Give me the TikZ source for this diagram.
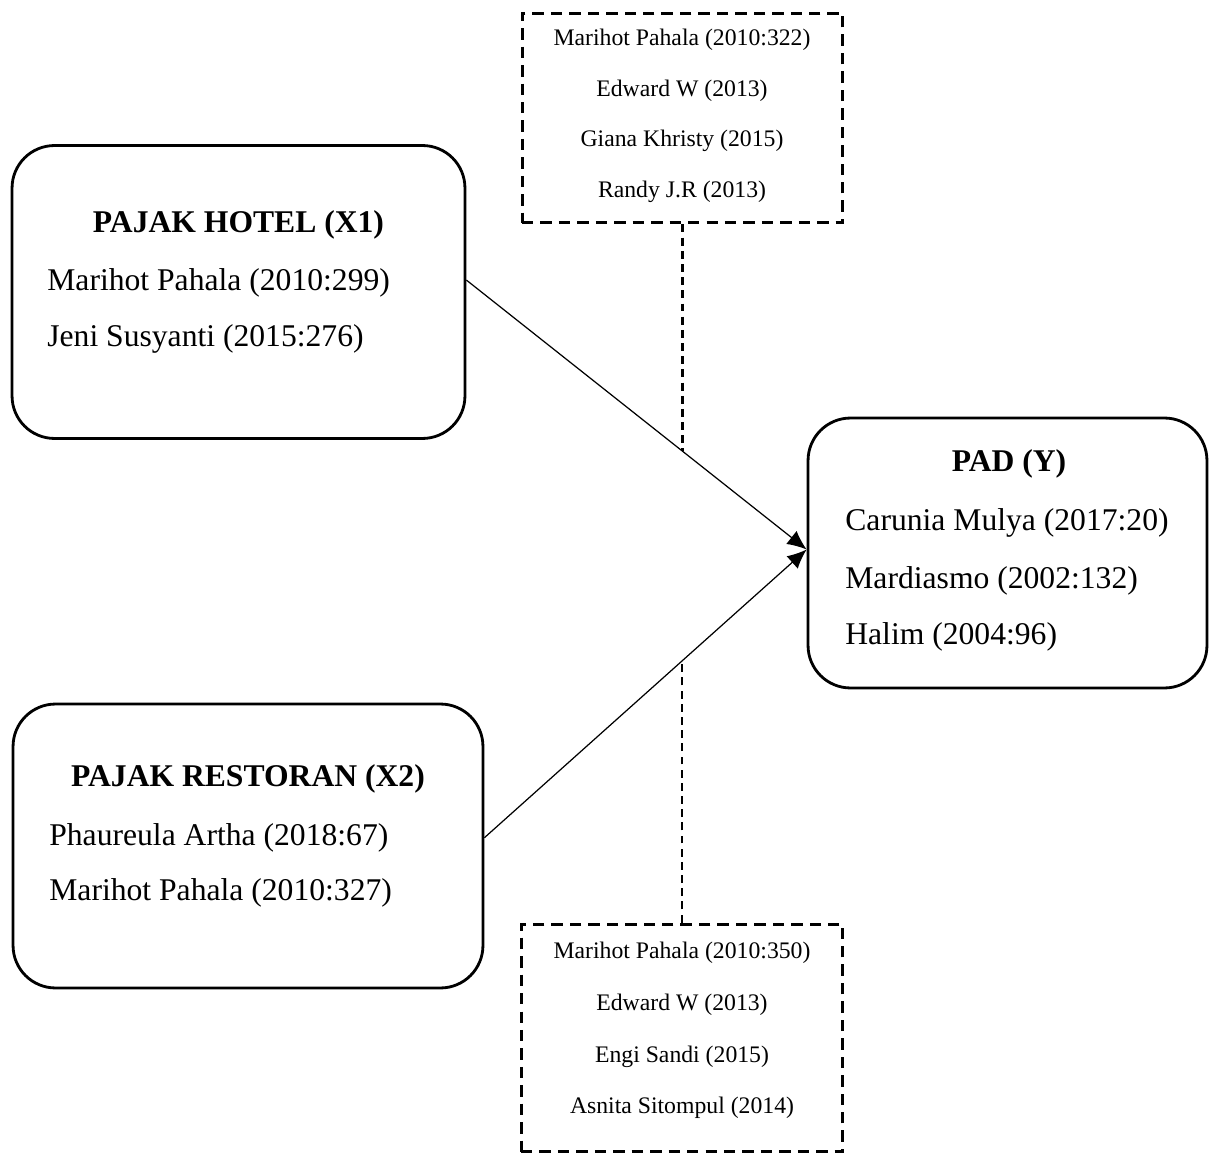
\documentclass[tikz,border=0pt]{standalone}
\usepackage{fontspec}
\setmainfont{Liberation Serif}
\usetikzlibrary{arrows.meta}

\tikzset{
  varbox/.style={draw,line width=1.6pt,rounded corners=0.85cm},
  refbox/.style={draw,line width=1.7pt,dash pattern=on 6.5pt off 4pt},
  refline/.style={line width=1.2pt,dash pattern=on 4.5pt off 3pt},
  arrow/.style={line width=0.7pt,-{Latex[length=11pt,width=9.5pt]}},
  bigtxt/.style={font=\fontsize{18}{22}\selectfont},
  smalltxt/.style={font=\fontsize{13.5}{16}\selectfont}
}

\begin{document}
\begin{tikzpicture}[x=0.02cm,y=-0.02cm,inner sep=0pt,minimum size=0mm]

\useasboundingbox (0,0) rectangle (1209,1158);

\node[varbox,minimum width=9.06cm,minimum height=5.86cm] (hotel) at (238.5,292) {};
\node[varbox,minimum width=9.4cm,minimum height=5.68cm] (resto) at (248,846) {};
\node[varbox,minimum width=7.98cm,minimum height=5.4cm] (pad) at (1007.5,553) {};

\node[refbox,minimum width=6.42cm,minimum height=4.2cm] (reftop) at (682.5,118) {};
\node[refbox,minimum width=6.44cm,minimum height=4.56cm] (refbot) at (682,1038) {};

\node[bigtxt] (hoteltitle) at (238.5,225) {\textbf{PAJAK HOTEL (X1)}};
\node[bigtxt,anchor=west] (hotel1) at (47,283) {Marihot Pahala (2010:299)};
\node[bigtxt,anchor=west] (hotel2) at (47,339) {Jeni Susyanti (2015:276)};

\node[bigtxt] (restotitle) at (248,779) {\textbf{PAJAK RESTORAN (X2)}};
\node[bigtxt,anchor=west] (resto1) at (49,838) {Phaureula Artha (2018:67)};
\node[bigtxt,anchor=west] (resto2) at (49,893) {Marihot Pahala (2010:327)};

\node[bigtxt] (padtitle) at (1009,464) {\textbf{PAD (Y)}};
\node[bigtxt,anchor=west] (pad1) at (845,523) {Carunia Mulya (2017:20)};
\node[bigtxt,anchor=west] (pad2) at (845,581) {Mardiasmo (2002:132)};
\node[bigtxt,anchor=west] (pad3) at (845,637) {Halim (2004:96)};

\node[smalltxt] (reftop1) at (682,40) {Marihot Pahala (2010:322)};
\node[smalltxt] (reftop2) at (682,91) {Edward W (2013)};
\node[smalltxt] (reftop3) at (682,141) {Giana Khristy (2015)};
\node[smalltxt] (reftop4) at (682,192) {Randy J.R (2013)};

\node[smalltxt] (refbot1) at (682,953) {Marihot Pahala (2010:350)};
\node[smalltxt] (refbot2) at (682,1005) {Edward W (2013)};
\node[smalltxt] (refbot3) at (682,1057) {Engi Sandi (2015)};
\node[smalltxt] (refbot4) at (682,1108) {Asnita Sitompul (2014)};

\draw[arrow] (hotel.3) -- coordinate[pos=0.633] (meet1) (pad.179);
\draw[arrow] (resto.2) -- coordinate[pos=0.612] (meet2) (pad.179);

\draw[refline] (reftop.south) -- (reftop.south |- meet1);
\draw[refline] (refbot.north) -- (refbot.north |- meet2);

\end{tikzpicture}
\end{document}
